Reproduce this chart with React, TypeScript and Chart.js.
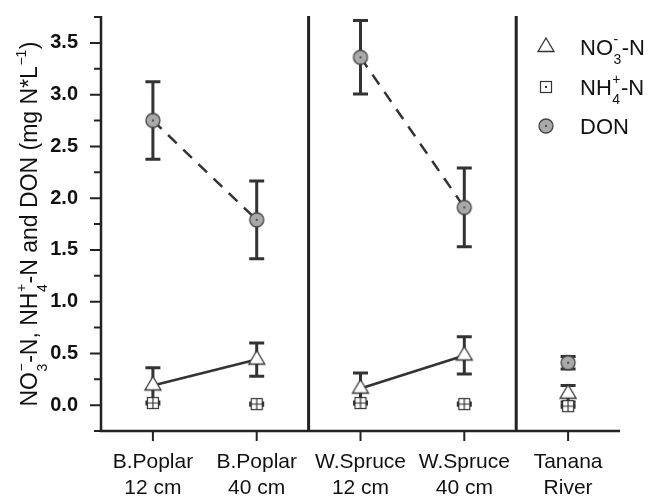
import React, { useEffect, useRef } from 'react';
import { Chart, registerables } from 'chart.js';

Chart.register(...registerables);

// ---------- data ----------
const categories: string[][] = [
  ['B.Poplar', '12 cm'],
  ['B.Poplar', '40 cm'],
  ['W.Spruce', '12 cm'],
  ['W.Spruce', '40 cm'],
  ['Tanana', 'River'],
];
const positions = [1, 2, 3, 4, 5];
const no3 = [0.19, 0.44, 0.16, 0.48, 0.11];
const no3Err = [0.17, 0.16, 0.15, 0.18, 0.08];
const nh4 = [0.02, 0.01, 0.02, 0.01, -0.01];
const nh4Err = [0.01, 0.01, 0.01, 0.01, 0.01];
const don = [2.75, 1.79, 3.36, 1.91, 0.41];
const donErr = [0.375, 0.375, 0.355, 0.38, 0.06];
const yMajorTicks = [0, 0.5, 1, 1.5, 2, 2.5, 3, 3.5];
const yMinorTicks = [-0.25, 0.25, 0.75, 1.25, 1.75, 2.25, 2.75, 3.25, 3.75];
const groupSeparators = [2.5, 4.5];

type Seg = { text: string; sup?: string; sub?: string };
const yTitleSegs: Seg[] = [
  { text: 'NO', sup: '\u2212', sub: '3' },
  { text: '-N, NH', sup: '+', sub: '4' },
  { text: '-N and DON (mg N*L', sup: '\u22121' },
  { text: ')' },
];
const legendEntries: { marker: string; segs: Seg[] }[] = [
  { marker: 'triangle', segs: [{ text: 'NO', sup: '-', sub: '3' }, { text: '-N' }] },
  { marker: 'squareDot', segs: [{ text: 'NH', sup: '+', sub: '4' }, { text: '-N' }] },
  { marker: 'circle', segs: [{ text: 'DON' }] },
];

const FONT = '"Liberation Sans", Arial, Helvetica, sans-serif';
const INK = '#222';

function makeMarker(kind: string): HTMLCanvasElement {
  const c = document.createElement('canvas');
  if (kind === 'triangle') {
    c.width = 20;
    c.height = 22;
    const g = c.getContext('2d')!;
    g.beginPath();
    g.moveTo(10, 2);
    g.lineTo(18, 15.5);
    g.lineTo(2, 15.5);
    g.closePath();
    g.fillStyle = '#fff';
    g.fill();
    g.strokeStyle = '#333';
    g.lineWidth = 1.3;
    g.stroke();
  } else if (kind === 'squareGrid' || kind === 'squareDot') {
    c.width = 14;
    c.height = 14;
    const g = c.getContext('2d')!;
    g.fillStyle = '#fff';
    g.fillRect(1.5, 1.5, 11, 11);
    g.strokeStyle = '#333';
    g.lineWidth = 1.2;
    g.strokeRect(1.5, 1.5, 11, 11);
    if (kind === 'squareGrid') {
      g.beginPath();
      g.moveTo(7, 1.5);
      g.lineTo(7, 12.5);
      g.moveTo(1.5, 7);
      g.lineTo(12.5, 7);
      g.stroke();
    } else {
      g.fillStyle = '#333';
      g.fillRect(6, 6, 2, 2);
    }
  } else {
    c.width = 18;
    c.height = 18;
    const g = c.getContext('2d')!;
    g.beginPath();
    g.arc(9, 9, 7, 0, Math.PI * 2);
    g.fillStyle = '#a9a9a9';
    g.fill();
    g.strokeStyle = '#444';
    g.lineWidth = 1.3;
    g.stroke();
    g.beginPath();
    g.arc(9, 9, 1, 0, Math.PI * 2);
    g.fillStyle = '#333';
    g.fill();
  }
  return c;
}

function measureRich(ctx: CanvasRenderingContext2D, segs: Seg[], fs: number, sfs: number) {
  let w = 0;
  for (const s of segs) {
    ctx.font = `${fs}px ${FONT}`;
    w += ctx.measureText(s.text).width;
    if (s.sup || s.sub) {
      ctx.font = `${sfs}px ${FONT}`;
      w += Math.max(s.sup ? ctx.measureText(s.sup).width : 0, s.sub ? ctx.measureText(s.sub).width : 0) + 1;
    }
  }
  return w;
}

function drawRich(ctx: CanvasRenderingContext2D, segs: Seg[], x: number, y: number, fs: number, sfs: number) {
  let cx = x;
  ctx.textAlign = 'left';
  ctx.textBaseline = 'alphabetic';
  for (const s of segs) {
    ctx.font = `${fs}px ${FONT}`;
    ctx.fillText(s.text, cx, y);
    cx += ctx.measureText(s.text).width;
    if (s.sup || s.sub) {
      ctx.font = `${sfs}px ${FONT}`;
      let w = 0;
      if (s.sup) {
        ctx.fillText(s.sup, cx + 0.5, y - fs * 0.5);
        w = Math.max(w, ctx.measureText(s.sup).width);
      }
      if (s.sub) {
        ctx.fillText(s.sub, cx + 0.5, y + fs * 0.42);
        w = Math.max(w, ctx.measureText(s.sub).width);
      }
      cx += w + 1;
    }
  }
}

export default function App() {
  const ref = useRef<HTMLCanvasElement>(null);

  useEffect(() => {
    const canvas = ref.current!;
    const markers: Record<string, HTMLCanvasElement> = {
      triangle: makeMarker('triangle'),
      squareGrid: makeMarker('squareGrid'),
      squareDot: makeMarker('squareDot'),
      circle: makeMarker('circle'),
    };

    const framePlugin = {
      id: 'frame',
      beforeDatasetsDraw(chart: any) {
        const { ctx, chartArea: a, scales } = chart;
        const x = scales.x;
        const y = scales.y;
        ctx.save();
        ctx.strokeStyle = INK;
        ctx.lineWidth = 2.5;
        ctx.beginPath();
        ctx.moveTo(a.left, a.top - 1);
        ctx.lineTo(a.left, a.bottom + 1.25);
        ctx.moveTo(a.left - 1.25, a.bottom);
        ctx.lineTo(a.right, a.bottom);
        ctx.stroke();
        ctx.lineWidth = 3;
        ctx.beginPath();
        for (const s of groupSeparators) {
          const px = x.getPixelForValue(s);
          ctx.moveTo(px, a.top - 1);
          ctx.lineTo(px, a.bottom);
        }
        ctx.stroke();
        ctx.lineWidth = 2;
        ctx.beginPath();
        for (const v of yMajorTicks) {
          const py = y.getPixelForValue(v);
          ctx.moveTo(a.left - 11, py);
          ctx.lineTo(a.left, py);
        }
        for (const v of yMinorTicks) {
          const py = y.getPixelForValue(v);
          ctx.moveTo(a.left - 7, py);
          ctx.lineTo(a.left, py);
        }
        for (const v of positions) {
          const px = x.getPixelForValue(v);
          ctx.moveTo(px, a.bottom);
          ctx.lineTo(px, a.bottom + 10);
        }
        ctx.stroke();
        ctx.restore();
      },
    };

    const errorBarPlugin = {
      id: 'errorBars',
      beforeDatasetsDraw(chart: any) {
        const { ctx, scales } = chart;
        const x = scales.x;
        const y = scales.y;
        const series = [
          { v: don, e: donErr },
          { v: no3, e: no3Err },
          { v: nh4, e: nh4Err },
        ];
        ctx.save();
        ctx.strokeStyle = '#333';
        ctx.lineWidth = 3;
        ctx.beginPath();
        for (const s of series) {
          s.v.forEach((val, i) => {
            const px = x.getPixelForValue(positions[i]);
            const top = y.getPixelForValue(val + s.e[i]);
            const bot = y.getPixelForValue(val - s.e[i]);
            ctx.moveTo(px, top);
            ctx.lineTo(px, bot);
            ctx.moveTo(px - 7.5, top);
            ctx.lineTo(px + 7.5, top);
            ctx.moveTo(px - 7.5, bot);
            ctx.lineTo(px + 7.5, bot);
          });
        }
        ctx.stroke();
        ctx.restore();
      },
    };

    const textPlugin = {
      id: 'texts',
      afterDraw(chart: any) {
        const { ctx, chartArea: a } = chart;
        ctx.save();
        ctx.fillStyle = '#111';
        // y-axis title, rotated
        const fs = 23;
        const sfs = 14;
        const w = measureRich(ctx, yTitleSegs, fs, sfs);
        ctx.translate(37, (a.top + a.bottom) / 2);
        ctx.rotate(-Math.PI / 2);
        drawRich(ctx, yTitleSegs, -w / 2, 0, fs, sfs);
        ctx.restore();

        // legend
        ctx.save();
        ctx.fillStyle = '#111';
        const rows = [47, 87, 126];
        legendEntries.forEach((en, i) => {
          const m = markers[en.marker];
          ctx.drawImage(m, 546 - m.width / 2, rows[i] - m.height / 2);
          drawRich(ctx, en.segs, 580, rows[i] + 8, 22, 14);
        });
        ctx.restore();
      },
    };

    const pts = (vals: number[]) => positions.map((p, i) => ({ x: p, y: vals[i] }));
    const hideGap = (ctx: any) => (ctx.p0DataIndex === 1 || ctx.p0DataIndex === 3 ? 'rgba(0,0,0,0)' : '#333');

    const chart = new Chart(canvas, {
      type: 'line',
      data: {
        datasets: [
          {
            label: 'NO3-N',
            data: pts(no3),
            borderColor: '#333',
            borderWidth: 2.5,
            pointStyle: markers.triangle as any,
            pointRadius: 7,
            segment: { borderColor: hideGap },
          },
          {
            label: 'NH4-N',
            data: pts(nh4),
            showLine: false,
            pointStyle: markers.squareGrid as any,
            pointRadius: 7,
          },
          {
            label: 'DON',
            data: pts(don),
            borderColor: '#333',
            borderWidth: 2.5,
            borderDash: [12, 9],
            pointStyle: markers.circle as any,
            pointRadius: 7,
            segment: { borderColor: hideGap },
          },
        ],
      },
      options: {
        animation: false,
        responsive: true,
        maintainAspectRatio: false,
        events: [],
        layout: { padding: { top: 17, right: 29, left: 0, bottom: 0 } },
        plugins: { legend: { display: false }, tooltip: { enabled: false } },
        scales: {
          x: {
            type: 'linear',
            min: 0.5,
            max: 5.5,
            grid: { display: false },
            border: { display: false },
            afterBuildTicks: (axis: any) => {
              axis.ticks = positions.map((v) => ({ value: v }));
            },
            afterFit: (s: any) => {
              s.height = 69;
              s.paddingLeft = 0;
              s.paddingRight = 0;
            },
            ticks: {
              autoSkip: false,
              maxRotation: 0,
              padding: 11,
              color: '#111',
              font: { family: FONT, size: 21, lineHeight: 1.2 },
              callback: (value: any) => {
                const i = positions.indexOf(Number(value));
                return i >= 0 ? categories[i] : '';
              },
            },
          },
          y: {
            type: 'linear',
            min: -0.25,
            max: 3.75,
            grid: { display: false },
            border: { display: false },
            afterBuildTicks: (axis: any) => {
              axis.ticks = yMajorTicks.map((v) => ({ value: v }));
            },
            afterFit: (s: any) => {
              s.width = 101;
              s.paddingTop = 0;
              s.paddingBottom = 0;
            },
            ticks: {
              padding: 15,
              color: '#111',
              font: { family: FONT, size: 20, weight: 'bold' },
              callback: (value: any) => Number(value).toFixed(1),
            },
          },
        },
      } as any,
      plugins: [framePlugin, errorBarPlugin, textPlugin],
    });
    return () => chart.destroy();
  }, []);

  return (
    <div style={{ position: 'fixed', left: 0, top: 0, width: 649, height: 500, background: '#fff' }}>
      <canvas ref={ref} />
    </div>
  );
}
